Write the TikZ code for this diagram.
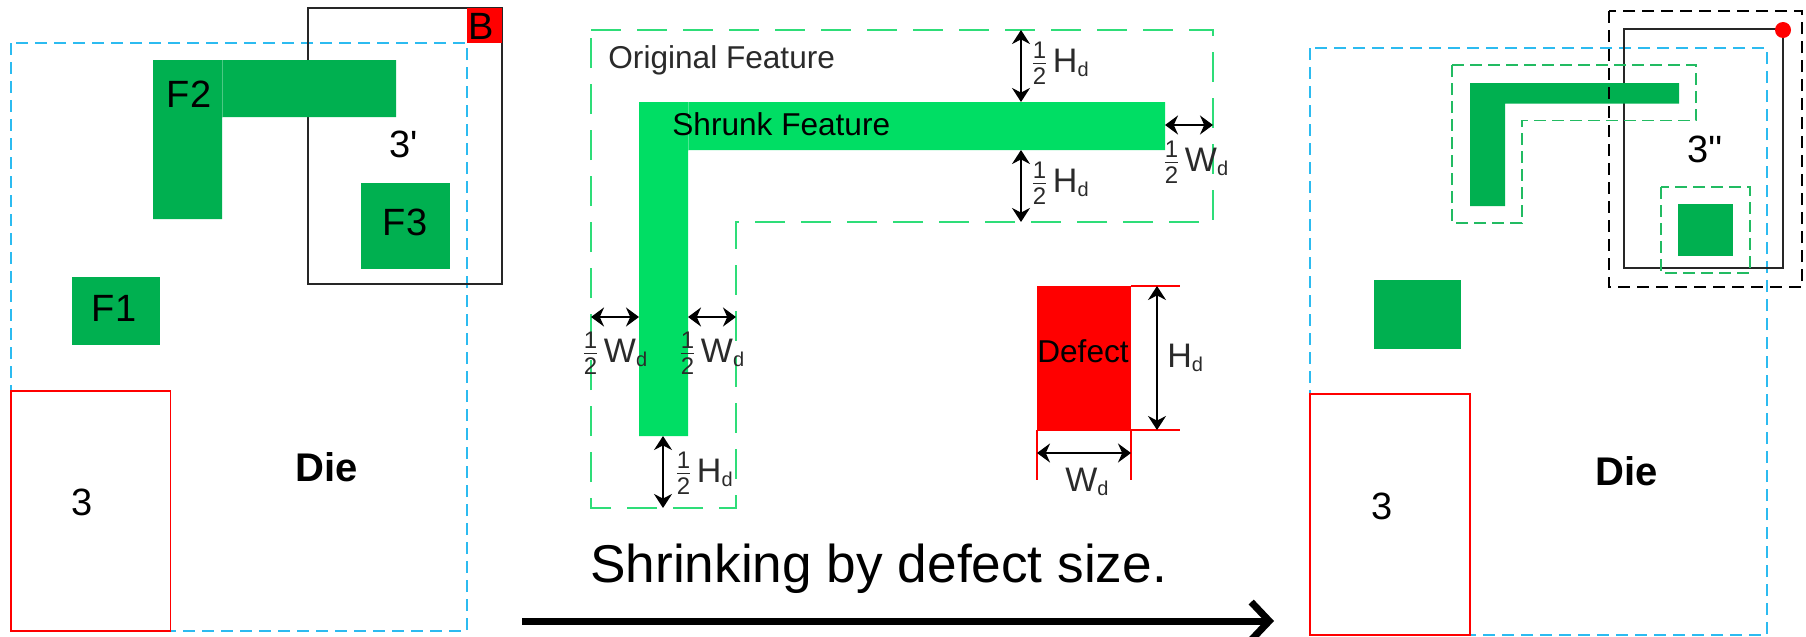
\documentclass[tikz,border=0pt]{standalone}
\usepackage{fontspec}
\setmainfont[Ligatures=TeXOff]{Liberation Sans}
\usetikzlibrary{arrows.meta}
\definecolor{featdark}{HTML}{00B050}
\definecolor{featbright}{HTML}{00DE64}
\definecolor{dieblue}{HTML}{2CBBF0}
\definecolor{outbright}{HTML}{2EDD78}
\definecolor{outdark}{HTML}{22BB62}
\definecolor{dimgrey}{HTML}{2A2A2A}
\newcommand{\fs}[1]{\fontsize{#1}{#1}\selectfont}
\newcommand{\halfm}{$\frac{\hbox{\fs{12}1}}{\hbox{\fs{12}2}}$\kern2.2pt}
\newcommand{\subd}{\raisebox{-2.2pt}{\fs{10}d}}
\tikzset{
  diebox/.style={draw=dieblue,line width=0.75pt,dash pattern=on 6pt off 3.5pt},
  windowbox/.style={draw=black!85,line width=1pt},
  zonebox/.style={draw=red,line width=0.9pt,fill=white},
  feat/.style={fill=featdark},
  featb/.style={fill=featbright},
  seam/.style={line width=0.35pt},
  outmid/.style={draw=outbright,line width=0.9pt,dash pattern=on 15pt off 8pt},
  outright/.style={draw=outdark,line width=0.75pt,dash pattern=on 6pt off 3pt},
  blackdash/.style={draw=black,line width=0.9pt,dash pattern=on 6pt off 3.5pt},
  dimarrow/.style={draw=black,line width=0.8pt,{Stealth[length=7pt,width=9pt]}-{Stealth[length=7pt,width=9pt]}},
  dimarrowh/.style={draw=black,line width=1.2pt,{Stealth[length=6.5pt,width=9.5pt]}-{Stealth[length=6.5pt,width=9.5pt]}},
  bigarrow/.style={draw=black,line width=3.5pt,-{Straight Barb[length=9pt,width=19pt]}},
  txt/.style={inner sep=0pt,font=\fs{19}},
  boldtxt/.style={inner sep=0pt,font=\fs{20}\bfseries},
  midtxt/.style={inner sep=0pt,font=\fs{15.8},text=dimgrey},
  dimtxt/.style={inner sep=0pt,anchor=west,font=\fs{17},text=dimgrey},
  extline/.style={draw=red,line width=0.7pt}
}
\begin{document}
\begin{tikzpicture}[x=0.5pt,y=-0.5pt]
\useasboundingbox (0,0) rectangle (1806,637);
% ---------- left panel
\draw[diebox] (11,43) rectangle (467,631);
\draw[windowbox] (307.5,8) rectangle (502,283.5);
\fill[red] (467,8) rectangle (502,43);
\draw[zonebox] (11,391) rectangle (170.5,631);
\fill[feat] (153,60) -- (396,60) -- (396,117) -- (222,117) -- (222,219) -- (153,219) -- cycle;
\draw[seam,draw=featdark!70!white] (222,60) -- (222,117);
\fill[feat] (361,183) rectangle (450,269);
\fill[feat] (72,277) rectangle (160,345);
\node[txt] (lB) at (481,26) {B};
\node[txt] (lF2) at (189,94) {F2};
\node[txt] (lF3) at (405,222) {F3};
\node[txt] (lF1) at (114,308) {F1};
\node[txt] (lwin) at (404,144) {3'};
\node[txt] (lzone) at (82,502) {3};
\node[boldtxt] (ldie) at (327,467) {Die};
% ---------- middle panel
\draw[outmid] (591,30) -- (1213,30) -- (1213,222) -- (736,222) -- (736,508) -- (591,508) -- cycle;
\fill[featb] (639,102) -- (1165,102) -- (1165,150) -- (688,150) -- (688,436) -- (639,436) -- cycle;
\draw[seam,draw=featbright!70!white] (688,102) -- (688,150);
\fill[red] (1037,286) rectangle (1131,429);
\draw[extline] (1131,286) -- (1180,286);
\draw[extline] (1037,430) -- (1180,430);
\draw[extline] (1037,430) -- (1037,480);
\draw[extline] (1131,430) -- (1131,480);
\coordinate (a1) at (1021,30); \coordinate (a2) at (1021,102);
\coordinate (a3) at (1021,150); \coordinate (a4) at (1021,222);
\coordinate (a5) at (1165,125); \coordinate (a6) at (1213,125);
\coordinate (a7) at (591,317); \coordinate (a8) at (639,317);
\coordinate (a9) at (688,317); \coordinate (a10) at (736,317);
\coordinate (a11) at (663,436); \coordinate (a12) at (663,508);
\coordinate (a13) at (1157,286); \coordinate (a14) at (1157,430);
\coordinate (a15) at (1037,453); \coordinate (a16) at (1131,453);
\draw[dimarrow] (a1) -- (a2);
\draw[dimarrow] (a3) -- (a4);
\draw[dimarrowh] (a5) -- (a6);
\draw[dimarrowh] (a7) -- (a8);
\draw[dimarrowh] (a9) -- (a10);
\draw[dimarrow] (a11) -- (a12);
\draw[dimarrow] (a13) -- (a14);
\draw[dimarrowh] (a15) -- (a16);
\node[midtxt,anchor=west] (orig) at (608,60) {Original Feature};
\node[midtxt,anchor=west,text=black] (shr) at (672,124) {Shrunk Feature};
\node[midtxt,text=black] (dft) at (1083,351) {Defect};
\node[dimtxt] (d1) at (1030,63) {\halfm H\subd};
\node[dimtxt] (d2) at (1030,183) {\halfm H\subd};
\node[dimtxt] (d3) at (1162,162) {\halfm W\subd};
\node[dimtxt] (d4) at (581,353) {\halfm W\subd};
\node[dimtxt] (d5) at (678,353) {\halfm W\subd};
\node[dimtxt] (d6) at (674,473) {\halfm H\subd};
\node[dimtxt] (d7) at (1167,358) {H\subd};
\node[dimtxt] (d8) at (1065,482) {W\subd};
\node[inner sep=0pt,anchor=base west,font=\fs{26.6}] (cap) at (590,582) {Shrinking by defect size.};
\coordinate (arrS) at (522,621); \coordinate (arrE) at (1274,621);
\draw[bigarrow] (arrS) -- (arrE);
% ---------- right panel
\draw[diebox] (1310,48) rectangle (1767,635);
\draw[windowbox,line width=0.9pt] (1624,29) rectangle (1783,268);
\draw[zonebox] (1310,394) rectangle (1470,635);
\fill[feat] (1470,83) -- (1679,83) -- (1679,103.5) -- (1505,103.5) -- (1505,206) -- (1470,206) -- cycle;
\fill[feat] (1678,204) rectangle (1733,256);
\fill[feat] (1374,280) rectangle (1461,349);
\draw[outright] (1452,65) -- (1696,65) -- (1696,120.5) -- (1522,120.5) -- (1522,223) -- (1452,223) -- cycle;
\draw[outright] (1661,187) rectangle (1750,273);
\draw[blackdash] (1609,11) rectangle (1802,287);
\fill[red] (1783,30) circle (8);
\node[txt] (rwin) at (1705,149) {3''};
\node[txt] (rzone) at (1382,506) {3};
\node[boldtxt] (rdie) at (1627,471) {Die};
\end{tikzpicture}
\end{document}
